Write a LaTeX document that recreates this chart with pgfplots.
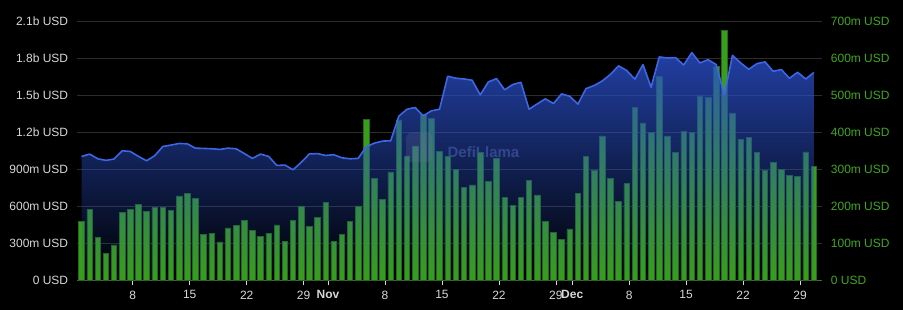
\documentclass[border=0pt]{standalone}
\usepackage{fontspec}
\setmainfont{Liberation Sans}
\usepackage{pgfplots}
\pgfplotsset{compat=1.18}
\usetikzlibrary{fadings,calc}
\definecolor{gridgray}{RGB}{45,45,45}
\definecolor{axisgray}{RGB}{90,90,90}
\definecolor{lefttext}{RGB}{215,215,215}
\definecolor{righttext}{RGB}{62,168,28}
\definecolor{barfill}{RGB}{56,158,28}
\definecolor{baredge}{RGB}{34,105,30}
\definecolor{areablue}{RGB}{42,78,200}
\definecolor{lineblue}{RGB}{59,102,230}
\definecolor{wmark}{RGB}{110,120,160}
\tikzfading[name=areafade, top color=transparent!18, bottom color=transparent!100]
\begin{document}
\begin{tikzpicture}
\fill[black] (0,0) rectangle (903bp,310bp);
\path[use as bounding box] (0,0) rectangle (903bp,310bp);
\begin{axis}[
  at={(77bp,29.5bp)}, anchor=south west,
  scale only axis, width=745bp, height=259.5bp,
  xmin=-0.553, xmax=91.0, ymin=0, ymax=700,
  axis x line*=bottom, axis y line*=right,
  x axis line style={draw=axisgray, line width=0.8bp},
  y axis line style={draw=none},
  ymajorgrids, grid style={draw=gridgray, line width=0.8bp},
  ytick={0,100,200,300,400,500,600,700},
  yticklabels={0 USD,100m USD,200m USD,300m USD,400m USD,500m USD,600m USD,700m USD},
  ytick style={draw=none},
  ytick align=inside,
  yticklabel style={anchor=west, inner sep=0pt, xshift=8.7bp, text=righttext, font=\fontsize{12bp}{14bp}\selectfont},
  xtick={6.3,13.3,20.3,27.3,30.3,37.3,44.3,51.3,58.3,60.3,67.3,74.3,81.3,88.3},
  xticklabels={8,15,22,29,\textbf{Nov},8,15,22,29,\textbf{Dec},8,15,22,29},
  xtick align=outside,
  major tick length=5bp,
  xtick style={draw=white!85!black, line width=0.8bp},
  xticklabel style={anchor=north, inner sep=0pt, yshift=-5bp, text=lefttext, font=\fontsize{12bp}{14bp}\selectfont},
  clip=false,
]
\node[text=wmark, opacity=0.55, font=\bfseries\fontsize{15bp}{17bp}\selectfont] at (axis cs:49.4,346) {DefiLlama};
\addplot[ybar, bar width=0.68, fill=barfill, draw=baredge, line width=0.7bp] coordinates {
(0,160) (1,191) (2,116) (3,73) (4,96) (5,183) (6,191) (7,206) (8,186) (9,196)
(10,197) (11,189) (12,228) (13,236) (14,221) (15,124) (16,127) (17,104) (18,142) (19,148)
(20,162) (21,136) (22,118) (23,127) (24,150) (25,105) (26,162) (27,201) (28,147) (29,170)
(30,210) (31,105) (32,125) (33,159) (34,201) (35,435) (36,275) (37,218) (38,293) (39,433)
(40,336) (41,363) (42,447) (43,438) (44,348) (45,334) (46,299) (47,252) (48,258) (49,346)
(50,268) (51,330) (52,223) (53,202) (54,223) (55,269) (56,231) (57,159) (58,129) (59,111)
(60,139) (61,234) (62,334) (63,296) (64,390) (65,276) (66,213) (67,261) (68,468) (69,425)
(70,400) (71,551) (72,390) (73,345) (74,403) (75,399) (76,498) (77,494) (78,578) (79,674)
(80,452) (81,381) (82,387) (83,346) (84,296) (85,319) (86,300) (87,283) (88,281) (89,347)
(90,307)
};
\end{axis}
\begin{axis}[
  at={(77bp,29.5bp)}, anchor=south west,
  scale only axis, width=745bp, height=259.5bp,
  xmin=-0.553, xmax=91.0, ymin=0, ymax=2100,
  hide x axis,
  axis y line*=left,
  y axis line style={draw=none},
  ytick={0,300,600,900,1200,1500,1800,2100},
  yticklabels={0 USD,300m USD,600m USD,900m USD,1.2b USD,1.5b USD,1.8b USD,2.1b USD},
  ytick style={draw=none},
  ytick align=inside,
  yticklabel style={anchor=east, inner sep=0pt, xshift=-8.7bp, text=lefttext, font=\fontsize{12bp}{14bp}\selectfont},
  clip=false,
]
\addplot[draw=none, fill=areablue, path fading=areafade] coordinates {
(0,1004) (1,1023) (2,985) (3,972) (4,983) (5,1050) (6,1044) (7,1004) (8,969) (9,1010)
(10,1085) (11,1096) (12,1109) (13,1106) (14,1071) (15,1069) (16,1066) (17,1061) (18,1071) (19,1066)
(20,1028) (21,988) (22,1023) (23,1004) (24,931) (25,934) (26,896) (27,956) (28,1024) (29,1027)
(30,1012) (31,1018) (32,993) (33,985) (34,988) (35,1082) (36,1112) (37,1128) (38,1131) (39,1330)
(40,1386) (41,1400) (42,1333) (43,1373) (44,1386) (45,1653) (46,1637) (47,1631) (48,1621) (49,1502)
(50,1607) (51,1634) (52,1543) (53,1586) (54,1604) (55,1386) (56,1429) (57,1470) (58,1432) (59,1510)
(60,1491) (61,1427) (62,1553) (63,1578) (64,1615) (65,1668) (66,1737) (67,1699) (68,1629) (69,1747)
(70,1564) (71,1809) (72,1801) (73,1804) (74,1744) (75,1844) (76,1761) (77,1787) (78,1747) (79,1502)
(80,1822) (81,1761) (82,1709) (83,1755) (84,1769) (85,1693) (86,1707) (87,1637) (88,1685) (89,1631)
(90,1683)
} \closedcycle;
\addplot[lineblue, line width=1.6bp, line join=round] coordinates {
(0,1004) (1,1023) (2,985) (3,972) (4,983) (5,1050) (6,1044) (7,1004) (8,969) (9,1010)
(10,1085) (11,1096) (12,1109) (13,1106) (14,1071) (15,1069) (16,1066) (17,1061) (18,1071) (19,1066)
(20,1028) (21,988) (22,1023) (23,1004) (24,931) (25,934) (26,896) (27,956) (28,1024) (29,1027)
(30,1012) (31,1018) (32,993) (33,985) (34,988) (35,1082) (36,1112) (37,1128) (38,1131) (39,1330)
(40,1386) (41,1400) (42,1333) (43,1373) (44,1386) (45,1653) (46,1637) (47,1631) (48,1621) (49,1502)
(50,1607) (51,1634) (52,1543) (53,1586) (54,1604) (55,1386) (56,1429) (57,1470) (58,1432) (59,1510)
(60,1491) (61,1427) (62,1553) (63,1578) (64,1615) (65,1668) (66,1737) (67,1699) (68,1629) (69,1747)
(70,1564) (71,1809) (72,1801) (73,1804) (74,1744) (75,1844) (76,1761) (77,1787) (78,1747) (79,1502)
(80,1822) (81,1761) (82,1709) (83,1755) (84,1769) (85,1693) (86,1707) (87,1637) (88,1685) (89,1631)
(90,1683)
};
\fill[wmark, opacity=0.22, rounded corners=6bp] ($(axis cs:41.5,1078)+(-13bp,-15bp)$) rectangle ($(axis cs:41.5,1078)+(13bp,15bp)$);
\end{axis}
\end{tikzpicture}
\end{document}
